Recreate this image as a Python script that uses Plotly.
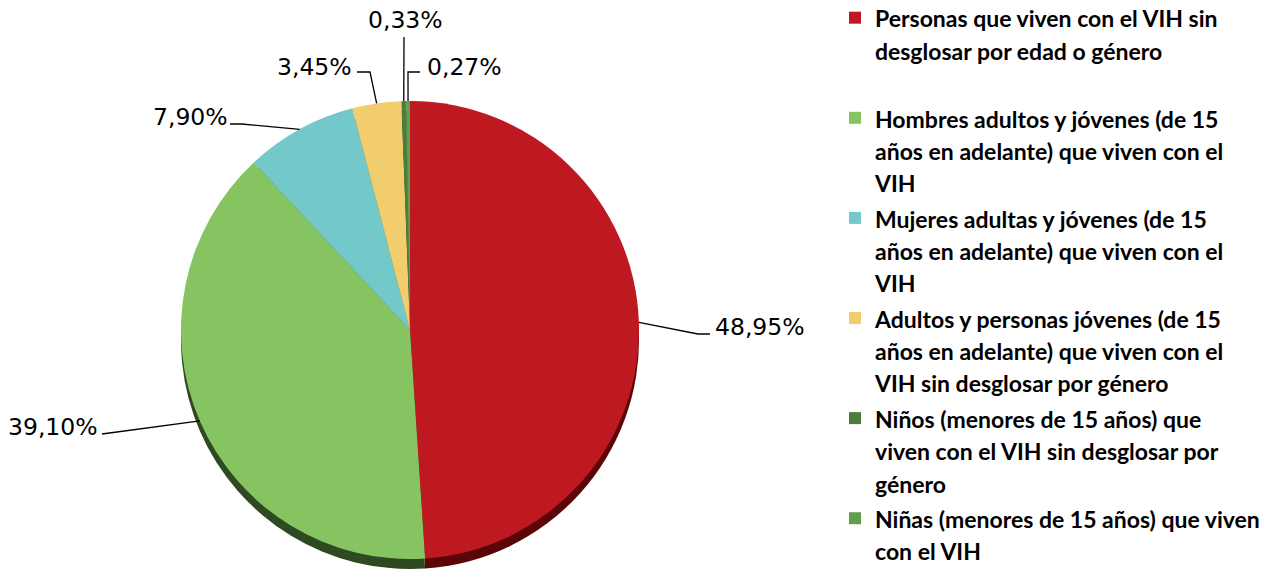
import math
import plotly.graph_objects as go

# ---------------- data ----------------
categories = [
    "Personas que viven con el VIH sin<br>desglosar por edad o género<br> ",
    "Hombres adultos y jóvenes (de 15<br>años en adelante) que viven con el<br>VIH",
    "Mujeres adultas y jóvenes (de 15<br>años en adelante) que viven con el<br>VIH",
    "Adultos y personas jóvenes (de 15<br>años en adelante) que viven con el<br>VIH sin desglosar por género",
    "Niños (menores de 15 años) que<br>viven con el VIH sin desglosar por<br>género",
    "Niñas (menores de 15 años) que viven<br>con el VIH",
]
values = [48.95, 39.10, 7.90, 3.45, 0.33, 0.27]
value_labels = ["48,95%", "39,10%", "7,90%", "3,45%", "0,33%", "0,27%"]

# ---------------- style ----------------
colors = ["#BE1821", "#86C462", "#73C9C9", "#F2CD6E", "#4E7D3A", "#5E9E4C"]
side_colors = ["#5A0606", "#2F4A22", "#3E7575", "#8A7030", "#2A4520", "#2F5026"]

W, H = 1282, 569
CX, CY, R = 410, 330, 229
DEPTH = 10

def px(x, y):
    return x / W, 1 - y / H

fig = go.Figure()

# 3D side (shadow pie shifted down)
fig.add_trace(go.Pie(
    labels=[c + "_side" for c in categories], values=values, sort=False,
    direction="clockwise", rotation=0,
    marker=dict(colors=side_colors, line=dict(width=0)),
    textinfo="none", hoverinfo="skip", showlegend=False,
    domain=dict(x=[(CX - R) / W, (CX + R) / W],
                y=[max(0, 1 - (CY + DEPTH + R) / H), 1 - (CY + DEPTH - R) / H]),
))

labels_span = ['<span style="font-size:23px">' + c + "</span>" for c in categories]
fig.add_trace(go.Pie(
    labels=labels_span, values=values, sort=False,
    direction="clockwise", rotation=0,
    marker=dict(colors=colors, line=dict(width=0)),
    textinfo="none", hoverinfo="label+percent",
    domain=dict(x=[(CX - R) / W, (CX + R) / W],
                y=[1 - (CY + R) / H, 1 - (CY - R) / H]),
))

# label layout: text centre (px) and elbow point (px)
label_pos = [(760, 327), (53, 427), (190, 117), (314, 67), (405, 20), (464, 67)]
elbows = [[(698, 334), (710, 334)],
          [(102, 434)],
          [(242, 124), (230, 124)],
          [(370, 72), (357, 72)],
          [(404, 37)],
          [(408, 72), (420, 72)]]

total = sum(values)
cum = 0.0
shapes = []
annotations = []
for i, v in enumerate(values):
    mid = (cum + v / 2) / total * 2 * math.pi
    cum += v
    ex = CX + R * math.sin(mid)
    ey = CY - R * math.cos(mid)
    pts = [(ex, ey)] + elbows[i]
    path = "M " + " L ".join("%f,%f" % px(x, y) for x, y in pts)
    shapes.append(dict(type="path", path=path, xref="paper", yref="paper",
                       line=dict(color="black", width=1.3)))
    tx, ty = px(*label_pos[i])
    annotations.append(dict(x=tx, y=ty, xref="paper", yref="paper",
                            text=value_labels[i], showarrow=False,
                            font=dict(family="DejaVu Sans", size=23.5, color="black"),
                            xanchor="center", yanchor="middle"))

fig.update_layout(
    width=W, height=H,
    margin=dict(l=0, r=0, t=0, b=0, autoexpand=False),
    paper_bgcolor="white", plot_bgcolor="white",
    shapes=shapes, annotations=annotations,
    legend=dict(x=835 / W, y=1 + 5 / H, xanchor="left", yanchor="top",
                valign="top", maxheight=2000,
                font=dict(family="Lato", size=24.9, color="black", weight="bold"),
                bgcolor="rgba(0,0,0,0)"),
)

fig.write_html("out.html", config={"displayModeBar": False},
               post_script="document.body.style.margin='0';")
